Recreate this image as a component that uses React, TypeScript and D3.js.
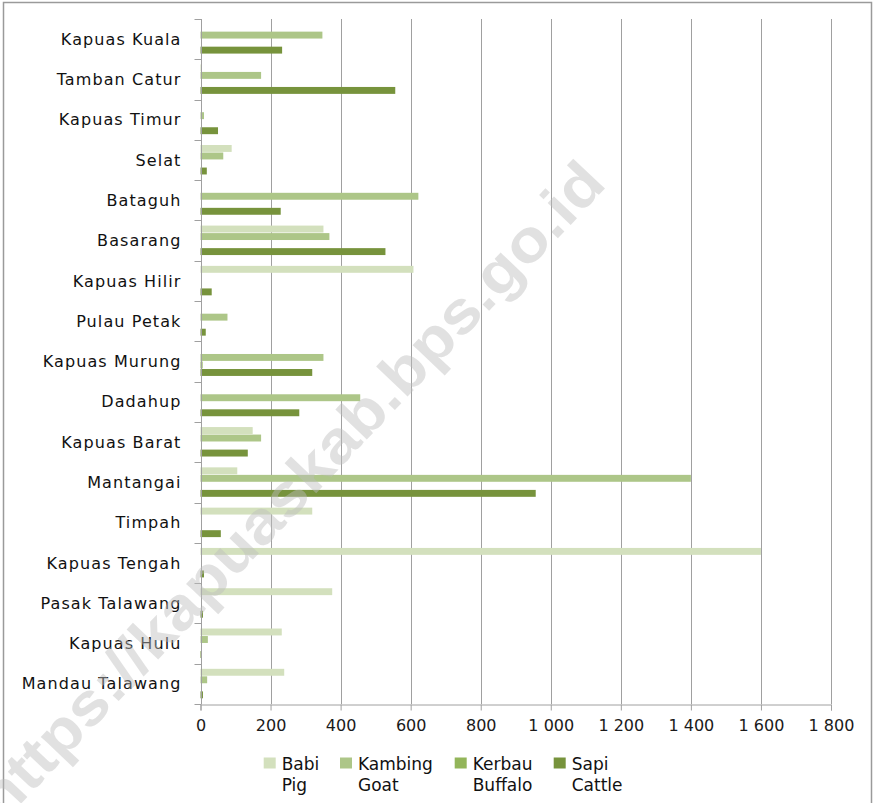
import { useRef, useEffect } from 'react';
import * as d3 from 'd3';

const categories = [
  'Kapuas Kuala', 'Tamban Catur', 'Kapuas Timur', 'Selat', 'Bataguh', 'Basarang',
  'Kapuas Hilir', 'Pulau Petak', 'Kapuas Murung', 'Dadahup', 'Kapuas Barat',
  'Mantangai', 'Timpah', 'Kapuas Tengah', 'Pasak Talawang', 'Kapuas Hulu', 'Mandau Talawang',
];

const babi = [0, 2, 0, 89, 0, 351, 608, 0, 0, 0, 149, 105, 319, 1600, 376, 232, 239];
const kambing = [348, 173, 10, 65, 622, 368, 0, 77, 351, 456, 173, 1400, 0, 0, 0, 21, 19];
const kerbau = [0, 0, 0, 0, 0, 0, 0, 0, 6, 0, 0, 0, 0, 0, 0, 0, 0];
const sapi = [233, 556, 50, 18, 229, 528, 32, 15, 319, 282, 135, 957, 58, 10, 7, 3, 7];

const seriesNames = ['Babi', 'Kambing', 'Kerbau', 'Sapi'];
const seriesEnglish = ['Pig', 'Goat', 'Buffalo', 'Cattle'];
const seriesColors = ['#d3e0bd', '#adc688', '#93b55a', '#77933c'];
const xTicks = [0, 200, 400, 600, 800, 1000, 1200, 1400, 1600, 1800];

const fmt = (v: number) => (v >= 1000 ? `${Math.floor(v / 1000)} ${String(v % 1000).padStart(3, '0')}` : String(v));

export default function App() {
  const svgRef = useRef<SVGSVGElement>(null);

  useEffect(() => {
    if (!svgRef.current) return;
    const width = 875;
    const height = 803;
    const margin = { top: 19, right: 44, bottom: 99, left: 200.5 };
    const font = 'DejaVu Sans, sans-serif';

    const svg = d3.select(svgRef.current).attr('width', width).attr('height', height);
    svg.selectAll('*').remove();

    svg.append('rect').attr('width', width).attr('height', height).attr('fill', '#fff');
    svg.append('rect')
      .attr('x', 3.5).attr('y', 2.5).attr('width', 868).attr('height', 820)
      .attr('fill', 'none').attr('stroke', '#9a9a9a').attr('stroke-width', 1.5);

    const x = d3.scaleLinear().domain([0, 1800]).range([margin.left, width - margin.right]);
    const y = d3.scaleBand<string>().domain(categories).range([margin.top, height - margin.bottom]);
    const sub = d3.scaleBand<string>().domain(seriesNames)
      .range([0, y.bandwidth()]).paddingOuter(0.68).paddingInner(0);

    // gridlines
    svg.append('g').selectAll('line').data(xTicks.slice(1)).join('line')
      .attr('x1', d => Math.round(x(d)) + 0.5).attr('x2', d => Math.round(x(d)) + 0.5)
      .attr('y1', margin.top).attr('y2', height - margin.bottom)
      .attr('stroke', '#a0a0a0').attr('stroke-width', 1);

    // bars
    const series = [babi, kambing, kerbau, sapi];
    series.forEach((vals, si) => {
      svg.append('g').selectAll('rect').data(vals).join('rect')
        .attr('x', x(0))
        .attr('y', (_, i) => (y(categories[i]) ?? 0) + (sub(seriesNames[si]) ?? 0))
        .attr('width', d => Math.max(0, x(d) - x(0)))
        .attr('height', sub.bandwidth() - 0.6)
        .attr('fill', seriesColors[si]);
    });

    // x axis
    const xAxis = svg.append('g')
      .attr('transform', `translate(0,${height - margin.bottom + 0.5})`)
      .call(d3.axisBottom(x).tickValues(xTicks).tickSize(6).tickPadding(9).tickFormat(d => fmt(+d)));
    xAxis.select('.domain').attr('stroke', '#a0a0a0');
    xAxis.selectAll('.tick line').attr('stroke', '#a0a0a0');
    xAxis.selectAll('.tick text')
      .attr('font-family', font).attr('font-size', 16).attr('fill', '#1a1a1a');

    // y axis
    const yG = svg.append('g').attr('transform', `translate(${Math.round(margin.left) + 0.5},0)`);
    yG.append('line').attr('y1', margin.top).attr('y2', height - margin.bottom)
      .attr('stroke', '#a0a0a0');
    const bounds = [...categories.map(c => y(c) ?? 0), height - margin.bottom];
    yG.selectAll('line.tk').data(bounds).join('line').attr('class', 'tk')
      .attr('x1', -7).attr('x2', 0)
      .attr('y1', d => Math.round(d) + 0.5).attr('y2', d => Math.round(d) + 0.5)
      .attr('stroke', '#a0a0a0');
    yG.selectAll('text').data(categories).join('text')
      .attr('x', -20).attr('y', d => (y(d) ?? 0) + y.bandwidth() / 2)
      .attr('dy', '0.35em').attr('text-anchor', 'end')
      .attr('font-family', font).attr('font-size', 16).attr('letter-spacing', 1.1).attr('fill', '#111')
      .text(d => d);

    // legend
    const legendX = [281.7, 358, 472.7, 571.7];
    const lg = svg.append('g').selectAll('g').data(seriesNames).join('g')
      .attr('transform', (_, i) => `translate(${legendX[i]},0)`);
    lg.append('rect').attr('x', -18).attr('y', 757.5).attr('width', 12).attr('height', 11)
      .attr('fill', (_, i) => seriesColors[i]);
    lg.append('text').attr('x', 0).attr('y', 770)
      .attr('font-family', font).attr('font-size', 17).attr('fill', '#111')
      .text(d => d);
    lg.append('text').attr('x', 0).attr('y', 790.5)
      .attr('font-family', font).attr('font-size', 17).attr('fill', '#111')
      .text((_, i) => seriesEnglish[i]);

    // watermark
    svg.append('text')
      .attr('transform', 'translate(290,490) rotate(-46.5)')
      .attr('text-anchor', 'middle').attr('dy', '0.35em')
      .attr('font-family', 'Liberation Sans, Arial, sans-serif').attr('font-weight', 'bold')
      .attr('font-size', 60).attr('textLength', 880).attr('lengthAdjust', 'spacingAndGlyphs')
      .attr('fill', '#bdbdbd').attr('fill-opacity', 0.45)
      .text('https://kapuaskab.bps.go.id');
  }, []);

  return (
    <div style={{ position: 'absolute', left: 0, top: 0 }}>
      <svg ref={svgRef}></svg>
    </div>
  );
}
